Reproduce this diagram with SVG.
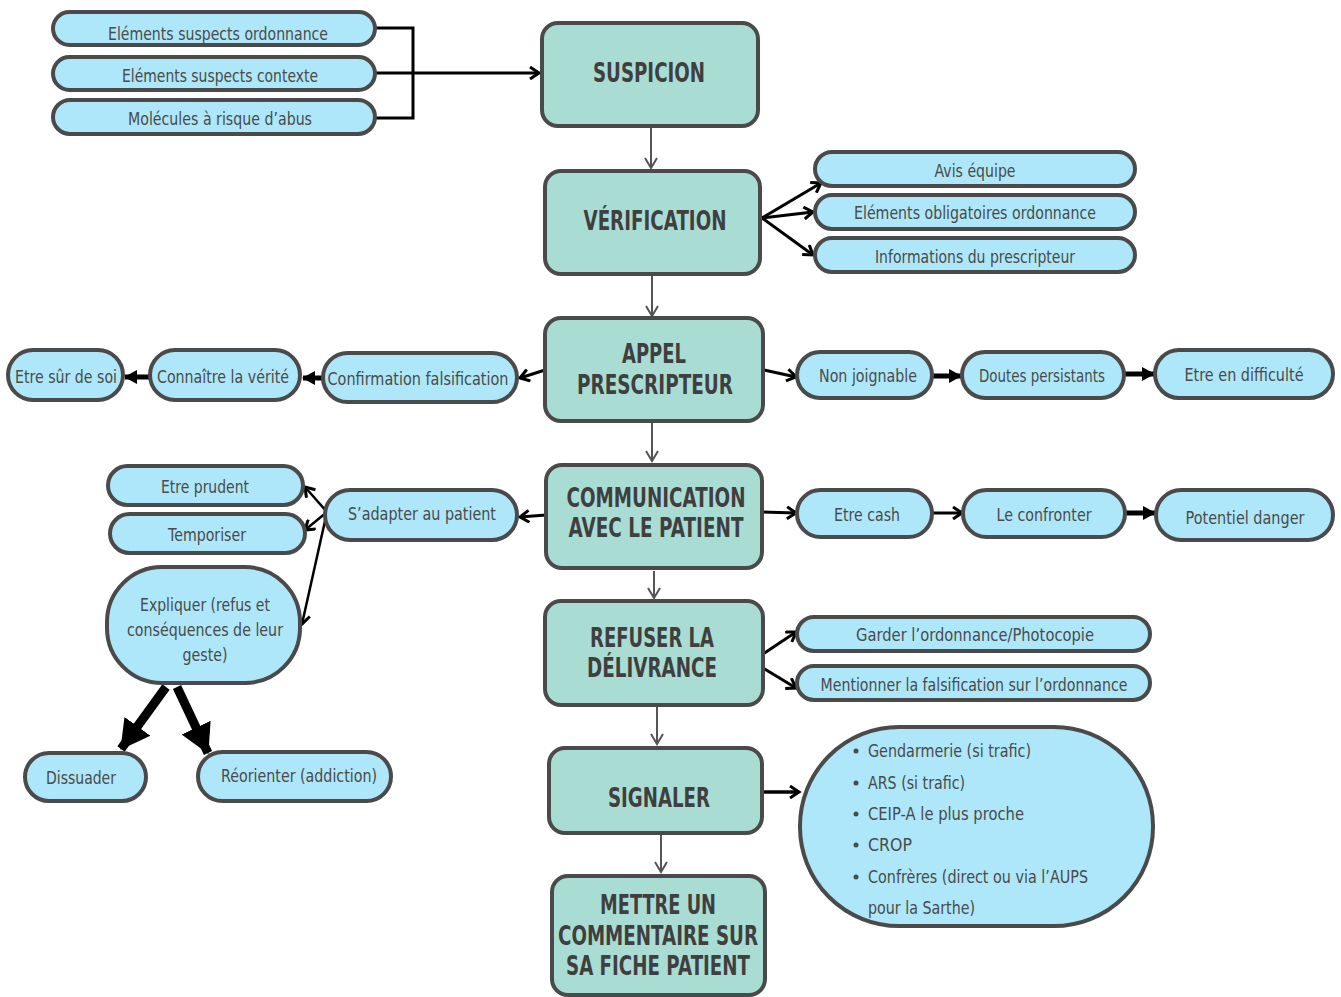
<svg xmlns="http://www.w3.org/2000/svg" width="1341" height="997" viewBox="0 0 1341 997">
<defs>
<style>
.hd{fill:#a9ddd4;stroke:#4a4a4a;stroke-width:4}
.pl{fill:#ade7f9;stroke:#4a4a4a;stroke-width:4}
.ht{font-family:"DejaVu Sans","Liberation Sans",sans-serif;font-weight:bold;font-size:27px;fill:#3f3f3f;text-anchor:middle}
.bt{font-family:"DejaVu Sans","Liberation Sans",sans-serif;font-size:18px;fill:#4a4a4a;text-anchor:middle}
.lt{text-anchor:start}
.g{fill:none;stroke:#555;stroke-width:2;marker-end:url(#ga)}
.b{fill:none;stroke:#000;stroke-width:3;marker-end:url(#oa)}
.t{fill:none;stroke:#000;stroke-width:5;marker-end:url(#fa)}
.x{fill:none;stroke:#000;stroke-width:9;marker-end:url(#xa)}
</style>
<marker id="ga" markerUnits="userSpaceOnUse" markerWidth="14" markerHeight="14" refX="11" refY="7" orient="auto"><path d="M1,1 L11,7 L1,13" fill="none" stroke="#555" stroke-width="2"/></marker>
<marker id="oa" markerUnits="userSpaceOnUse" markerWidth="14" markerHeight="14" refX="11" refY="7" orient="auto"><path d="M2,1 L11,7 L2,13" fill="none" stroke="#000" stroke-width="3"/></marker>
<marker id="fa" markerUnits="userSpaceOnUse" markerWidth="14" markerHeight="16" refX="12" refY="8" orient="auto"><path d="M0,1 L13,8 L0,15 Z" fill="#000"/></marker>
<marker id="xa" markerUnits="userSpaceOnUse" markerWidth="30" markerHeight="34" refX="28" refY="17" orient="auto"><path d="M0,1 L29,17 L0,33 Z" fill="#000"/></marker>
</defs>
<rect width="1341" height="997" fill="#fff"/>

<g id="connectors">
<path d="M375,28 H413 V118 H375" fill="none" stroke="#000" stroke-width="3"/>
<path class="b" d="M375,73 H539"/>
<path class="g" d="M651,127 V168"/>
<path class="b" d="M762,218 L821,183"/>
<path class="b" d="M762,218 L813,212"/>
<path class="b" d="M762,218 L813,255"/>
<path class="g" d="M652,276 V316"/>
<path class="b" d="M545,370 L520,378"/>
<path class="t" d="M323,378 L303,378"/>
<path class="t" d="M150,377 L125,377"/>
<path class="b" d="M764,370 L796,377"/>
<path class="t" d="M932,376 L961,376"/>
<path class="t" d="M1124,374 L1154,374"/>
<path class="g" d="M652,422 V461"/>
<path class="b" d="M762,512 L796,513"/>
<path class="b" d="M932,513 L962,513"/>
<path class="t" d="M1125,513 L1155,513"/>
<path class="b" d="M546,515 L520,517"/>
<path class="b" d="M327,512 L305,487" style="stroke-width:2.5"/>
<path class="b" d="M327,512 L305,530" style="stroke-width:2.5"/>
<path class="b" d="M327,512 L302,624" style="stroke-width:2.5"/>
<path class="x" d="M166,687 L121,749"/>
<path class="x" d="M177,687 L208,753"/>
<path class="g" d="M654,571 V598"/>
<path class="b" d="M763,654 L796,632"/>
<path class="b" d="M763,668 L796,688"/>
<path class="g" d="M657,707 V744"/>
<path class="b" d="M763,792 L799,792" style="stroke-width:3.5"/>
<path class="g" d="M661,835 V872"/>
</g>

<g id="n-el-ordo"><rect class="pl" x="53" y="12" width="322" height="33" rx="16.5"/><text class="bt" x="218" y="40" textLength="220" lengthAdjust="spacingAndGlyphs">Eléments suspects ordonnance</text></g>
<g id="n-el-ctx"><rect class="pl" x="53" y="57" width="322" height="33" rx="16.5"/><text class="bt" x="220" y="82" textLength="196" lengthAdjust="spacingAndGlyphs">Eléments suspects contexte</text></g>
<g id="n-molec"><rect class="pl" x="53" y="100" width="322" height="34" rx="17"/><text class="bt" x="220" y="125" textLength="184" lengthAdjust="spacingAndGlyphs">Molécules à risque d’abus</text></g>

<g id="n-suspicion"><rect class="hd" x="542" y="23" width="216" height="103" rx="16"/><text class="ht" x="649" y="82" textLength="112" lengthAdjust="spacingAndGlyphs">SUSPICION</text></g>

<g id="n-verif"><rect class="hd" x="545" y="171" width="215" height="103" rx="16"/><text class="ht" x="655" y="230" textLength="143" lengthAdjust="spacingAndGlyphs">VÉRIFICATION</text></g>
<g id="n-avis"><rect class="pl" x="815" y="152" width="320" height="34" rx="17"/><text class="bt" x="975" y="177" textLength="81" lengthAdjust="spacingAndGlyphs">Avis équipe</text></g>
<g id="n-oblig"><rect class="pl" x="815" y="195" width="320" height="34" rx="17"/><text class="bt" x="975" y="219" textLength="242" lengthAdjust="spacingAndGlyphs">Eléments obligatoires ordonnance</text></g>
<g id="n-info"><rect class="pl" x="815" y="238" width="320" height="34" rx="17"/><text class="bt" x="975" y="263" textLength="200" lengthAdjust="spacingAndGlyphs">Informations du prescripteur</text></g>

<g id="n-appel"><rect class="hd" x="545" y="318" width="218" height="103" rx="16"/><text class="ht" x="654" y="363" textLength="64" lengthAdjust="spacingAndGlyphs">APPEL</text><text class="ht" x="655" y="394" textLength="156" lengthAdjust="spacingAndGlyphs">PRESCRIPTEUR</text></g>
<g id="n-confirm"><rect class="pl" x="323" y="353" width="194" height="49" rx="24.5"/><text class="bt" x="418" y="385" textLength="181" lengthAdjust="spacingAndGlyphs">Confirmation falsification</text></g>
<g id="n-connaitre"><rect class="pl" x="150" y="350" width="150" height="50" rx="25"/><text class="bt" x="223" y="383" textLength="132" lengthAdjust="spacingAndGlyphs">Connaître la vérité</text></g>
<g id="n-sur"><rect class="pl" x="8" y="350" width="115" height="50" rx="25"/><text class="bt" x="66" y="383" textLength="102" lengthAdjust="spacingAndGlyphs">Etre sûr de soi</text></g>
<g id="n-nonjoign"><rect class="pl" x="797" y="352" width="135" height="46" rx="23"/><text class="bt" x="868" y="382" textLength="98" lengthAdjust="spacingAndGlyphs">Non joignable</text></g>
<g id="n-doutes"><rect class="pl" x="962" y="352" width="162" height="46" rx="23"/><text class="bt" x="1042" y="382" textLength="126" lengthAdjust="spacingAndGlyphs">Doutes persistants</text></g>
<g id="n-diff"><rect class="pl" x="1155" y="350" width="178" height="48" rx="24"/><text class="bt" x="1244" y="381" textLength="119" lengthAdjust="spacingAndGlyphs">Etre en difficulté</text></g>

<g id="n-comm"><rect class="hd" x="546" y="465" width="216" height="103" rx="16"/><text class="ht" x="656" y="507" textLength="179" lengthAdjust="spacingAndGlyphs">COMMUNICATION</text><text class="ht" x="656" y="537" textLength="175" lengthAdjust="spacingAndGlyphs">AVEC LE PATIENT</text></g>
<g id="n-cash"><rect class="pl" x="797" y="490" width="135" height="47" rx="23.5"/><text class="bt" x="867" y="521" textLength="66" lengthAdjust="spacingAndGlyphs">Etre cash</text></g>
<g id="n-confront"><rect class="pl" x="963" y="490" width="162" height="47" rx="23.5"/><text class="bt" x="1044" y="521" textLength="95" lengthAdjust="spacingAndGlyphs">Le confronter</text></g>
<g id="n-danger"><rect class="pl" x="1156" y="490" width="177" height="50" rx="25"/><text class="bt" x="1245" y="524" textLength="119" lengthAdjust="spacingAndGlyphs">Potentiel danger</text></g>
<g id="n-adapter"><rect class="pl" x="325" y="490" width="192" height="50" rx="25"/><text class="bt" x="422" y="520" textLength="148" lengthAdjust="spacingAndGlyphs">S’adapter au patient</text></g>
<g id="n-prudent"><rect class="pl" x="108" y="466" width="195" height="39" rx="19.5"/><text class="bt" x="205" y="493" textLength="88" lengthAdjust="spacingAndGlyphs">Etre prudent</text></g>
<g id="n-tempo"><rect class="pl" x="110" y="514" width="195" height="39" rx="19.5"/><text class="bt" x="207" y="541" textLength="78" lengthAdjust="spacingAndGlyphs">Temporiser</text></g>
<g id="n-expliquer"><rect class="pl" x="107" y="567" width="193" height="116" rx="55"/><text class="bt" x="205" y="611" textLength="130" lengthAdjust="spacingAndGlyphs">Expliquer (refus et</text><text class="bt" x="205" y="636" textLength="156" lengthAdjust="spacingAndGlyphs">conséquences de leur</text><text class="bt" x="205" y="661" textLength="45" lengthAdjust="spacingAndGlyphs">geste)</text></g>
<g id="n-dissuader"><rect class="pl" x="25" y="753" width="121" height="48" rx="24"/><text class="bt" x="81" y="784" textLength="70" lengthAdjust="spacingAndGlyphs">Dissuader</text></g>
<g id="n-reorienter"><rect class="pl" x="198" y="752" width="193" height="49" rx="24.5"/><text class="bt" x="299" y="782" textLength="156" lengthAdjust="spacingAndGlyphs">Réorienter (addiction)</text></g>

<g id="n-refuser"><rect class="hd" x="545" y="601" width="218" height="104" rx="16"/><text class="ht" x="652" y="647" textLength="124" lengthAdjust="spacingAndGlyphs">REFUSER LA</text><text class="ht" x="652" y="677" textLength="130" lengthAdjust="spacingAndGlyphs">DÉLIVRANCE</text></g>
<g id="n-garder"><rect class="pl" x="797" y="617" width="353" height="34" rx="17"/><text class="bt" x="975" y="641" textLength="238" lengthAdjust="spacingAndGlyphs">Garder l’ordonnance/Photocopie</text></g>
<g id="n-mention"><rect class="pl" x="797" y="666" width="353" height="34" rx="17"/><text class="bt" x="974" y="691" textLength="307" lengthAdjust="spacingAndGlyphs">Mentionner la falsification sur l’ordonnance</text></g>

<g id="n-signaler"><rect class="hd" x="549" y="748" width="213" height="85" rx="16"/><text class="ht" x="659" y="807" textLength="102" lengthAdjust="spacingAndGlyphs">SIGNALER</text></g>
<g id="n-liste"><rect class="pl" x="800" y="727" width="353" height="199" rx="99"/>
<g fill="#4a4a4a"><circle cx="856" cy="751" r="2.5"/><circle cx="856" cy="783" r="2.5"/><circle cx="856" cy="814" r="2.5"/><circle cx="856" cy="845" r="2.5"/><circle cx="856" cy="877" r="2.5"/></g>
<text class="bt lt" x="868" y="757" textLength="163" lengthAdjust="spacingAndGlyphs">Gendarmerie (si trafic)</text>
<text class="bt lt" x="868" y="789" textLength="97" lengthAdjust="spacingAndGlyphs">ARS (si trafic)</text>
<text class="bt lt" x="868" y="820" textLength="156" lengthAdjust="spacingAndGlyphs">CEIP-A le plus proche</text>
<text class="bt lt" x="868" y="851" textLength="44" lengthAdjust="spacingAndGlyphs">CROP</text>
<text class="bt lt" x="868" y="883" textLength="220" lengthAdjust="spacingAndGlyphs">Confrères (direct ou via l’AUPS</text>
<text class="bt lt" x="868" y="914" textLength="107" lengthAdjust="spacingAndGlyphs">pour la Sarthe)</text>
</g>

<g id="n-mettre"><rect class="hd" x="552" y="876" width="213" height="119" rx="16"/><text class="ht" x="658" y="914" textLength="116" lengthAdjust="spacingAndGlyphs">METTRE UN</text><text class="ht" x="658" y="945" textLength="200" lengthAdjust="spacingAndGlyphs">COMMENTAIRE SUR</text><text class="ht" x="658" y="975" textLength="184" lengthAdjust="spacingAndGlyphs">SA FICHE PATIENT</text></g>
</svg>
